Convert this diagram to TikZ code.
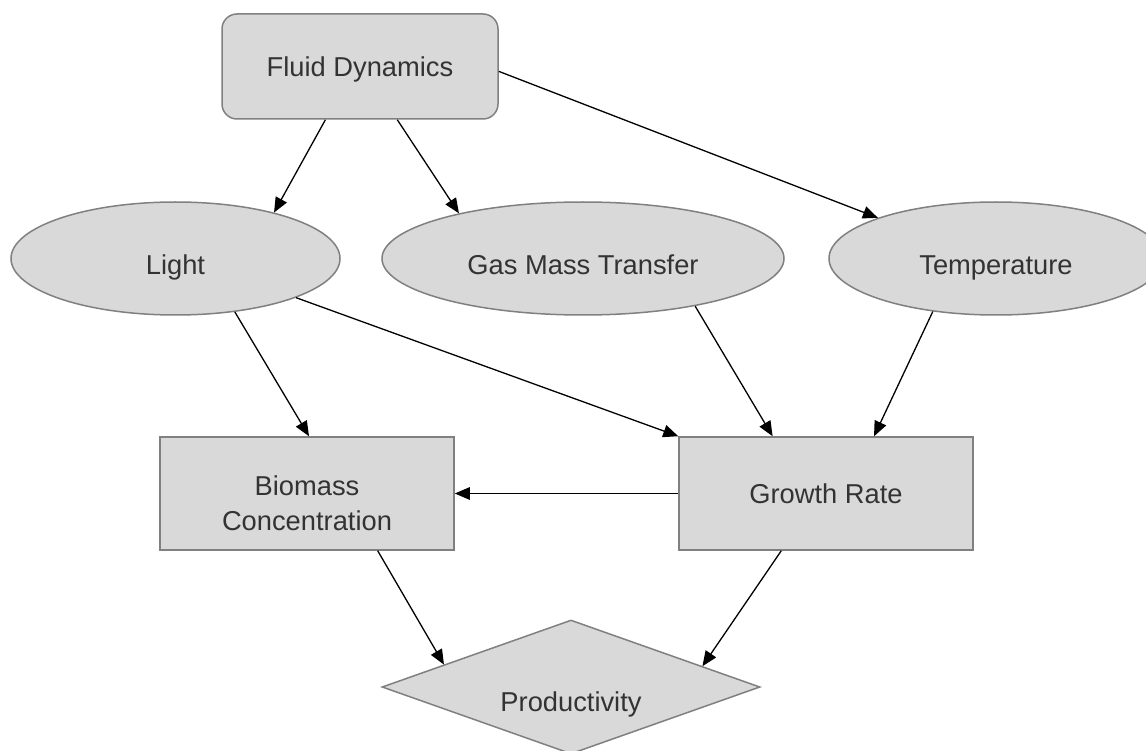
\documentclass[tikz,border=0pt]{standalone}
\usepackage{fontspec}
\setmainfont{Liberation Sans}
\usetikzlibrary{arrows.meta,shapes.geometric}
\definecolor{boxfill}{HTML}{D9D9D9}
\definecolor{boxline}{HTML}{808080}
\definecolor{txtgray}{HTML}{333333}
\tikzset{
  base/.style={draw=boxline,fill=boxfill,line width=1.5pt,inner sep=0pt,text=txtgray,
    font=\fontsize{27.3}{35}\selectfont,text height=19.5pt,text depth=0pt},
  roundbox/.style={base,rectangle,rounded corners=15pt,minimum width=276pt,minimum height=105pt},
  plainbox/.style={base,rectangle,minimum width=294pt,minimum height=113pt},
  ellbox/.style={base,ellipse,minimum height=113pt,text height=32.5pt},
  diabox/.style={base,diamond,aspect=2.8,minimum width=378pt,minimum height=134pt,text height=49.5pt},
  arr/.style={-{Triangle[length=15pt,width=12.5pt]},line width=1.3pt}
}
\begin{document}
\begin{tikzpicture}[x=1pt,y=-1pt]
        \useasboundingbox[fill=white] (0,0) rectangle (1146,751);
        \node[roundbox] (fd) at (360,66.5) {Fluid Dynamics};
        \node[ellbox,minimum width=329pt] (light) at (175.5,258.5) {Light};
        \node[ellbox,minimum width=402pt] (gmt) at (583,258.5) {Gas Mass Transfer};
        \node[ellbox,minimum width=334pt] (temp) at (996,258.5) {Temperature};
        \node[plainbox,align=center,text height=73pt] (bio) at (307,493.5) {Biomass\\Concentration};
        \node[plainbox] (growth) at (826,493.5) {Growth Rate};
        \node[diabox] (prod) at (571,687) {Productivity};
        \draw[arr] (fd.237.6) -- (light.25);
        \draw[arr] (fd.305.4) -- (gmt.160.7);
        \draw[arr] (fd.-2.7) -- (temp.161.1);
        \draw[arr] (light.-42.4) -- (bio.88);
        \draw[arr] (light.-18.3) -- (growth.north west);
        \draw[arr] (gmt.-23.2) -- (growth.133.7);
        \draw[arr] (temp.220.3) -- (growth.50.8);
        \draw[arr] (growth.west) -- (bio.east);
        \draw[arr] (bio.321.1) -- (prod.170.3);
        \draw[arr] (growth.232.7) -- (prod.9.7);
      \end{tikzpicture}
\end{document}
